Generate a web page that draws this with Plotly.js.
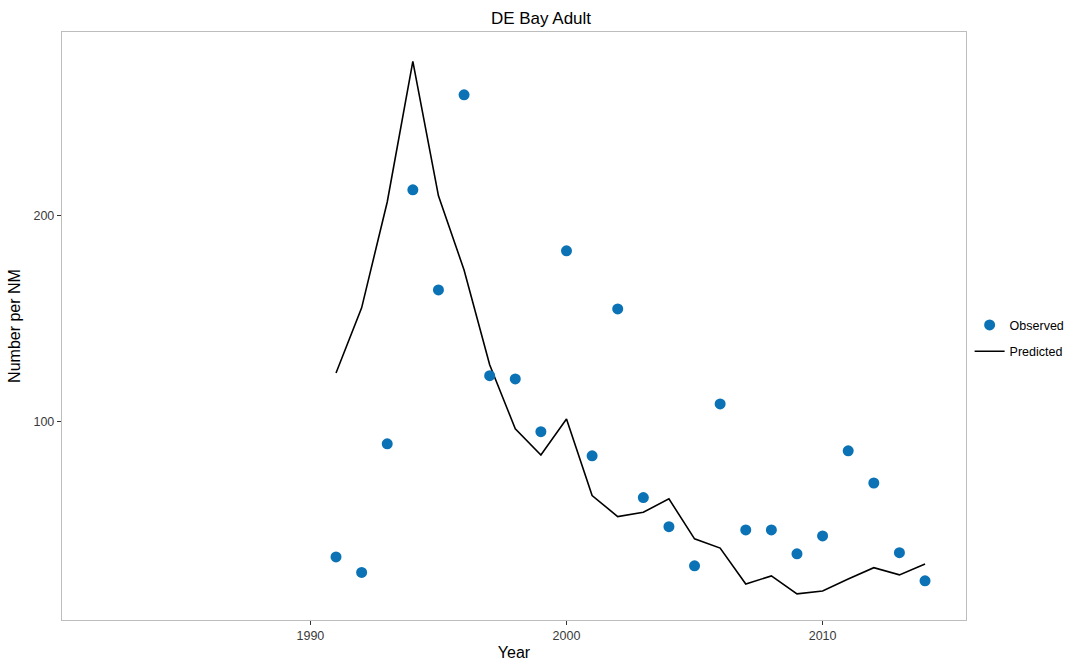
<!DOCTYPE html>
<html>
<head>
<meta charset="utf-8">
<script src="https://cdn.plot.ly/plotly-3.0.1.min.js"></script>
<style>html,body{margin:0;padding:0;background:#fff;}#chart{width:1082px;height:664px;}</style>
</head>
<body>
<div id="chart"></div>
<script>
const years = [1991,1992,1993,1994,1995,1996,1997,1998,1999,2000,2001,2002,2003,2004,2005,2006,2007,2008,2009,2010,2011,2012,2013,2014];
const observed = [34.2,26.7,89.1,212.4,163.8,258.5,122.2,120.6,95.0,182.8,83.3,154.6,63.0,48.9,29.9,108.5,47.3,47.3,35.7,44.4,85.7,70.1,36.3,22.6];
const predicted = [123.5,155.1,206.5,274.7,209.5,173.5,127.5,96.4,83.7,101.2,64.0,53.8,55.9,62.4,43.0,38.5,21.1,25.0,16.3,17.7,23.5,29.0,25.5,30.8];
const seriesNames = ["Observed","Predicted"];
const xTicks = [1990,2000,2010];
const yTicks = [100,200];

const traces = [
  {x: years, y: predicted, name: seriesNames[1], type: 'scatter', mode: 'lines',
   line: {color: '#000000', width: 1.6}, showlegend: false},
  {x: years, y: observed, name: seriesNames[0], type: 'scatter', mode: 'markers',
   legendgroup: 'obs', marker: {color: '#0a72b5', size: 11}},
  {x: [null], y: [null], name: seriesNames[1], type: 'scatter', mode: 'lines',
   legendgroup: 'pred', line: {color: '#000000', width: 1.6}}
];

const axisCommon = {
  showgrid: false, zeroline: false, showline: true, mirror: true,
  linecolor: '#bdbdbd', linewidth: 1.2,
  ticks: 'outside', ticklen: 4, tickcolor: '#333333', tickwidth: 1,
  tickfont: {family: 'Liberation Sans, Arial, sans-serif', size: 12.5, color: '#3a3a3a'}
};

const layout = {
  width: 1082, height: 664,
  paper_bgcolor: '#ffffff', plot_bgcolor: '#ffffff',
  margin: {l: 62, r: 116, t: 32, b: 44},
  font: {family: 'Liberation Sans, Arial, sans-serif', color: '#000'},
  title: {text: 'DE Bay Adult', x: 0.5, xanchor: 'center', y: 0.973, yanchor: 'middle',
          font: {size: 17, color: '#000'}},
  xaxis: Object.assign({}, axisCommon, {
    range: [1980.3, 2015.6], tickvals: xTicks, ticktext: xTicks.map(String),
    title: {text: 'Year', standoff: 4, font: {size: 16, color: '#000'}}
  }),
  yaxis: Object.assign({}, axisCommon, {
    range: [3.6, 289], tickvals: yTicks, ticktext: yTicks.map(String),
    title: {text: 'Number per NM', standoff: 8, font: {size: 16, color: '#000'}}
  }),
  legend: {x: 1.004, xanchor: 'left', y: 0.479, yanchor: 'middle',
           font: {size: 12.5, color: '#000'}, bgcolor: 'rgba(0,0,0,0)',
           tracegroupgap: 7, itemwidth: 30},
  showlegend: true
};

Plotly.newPlot('chart', traces, layout, {displayModeBar: false, staticPlot: true});
</script>
</body>
</html>
